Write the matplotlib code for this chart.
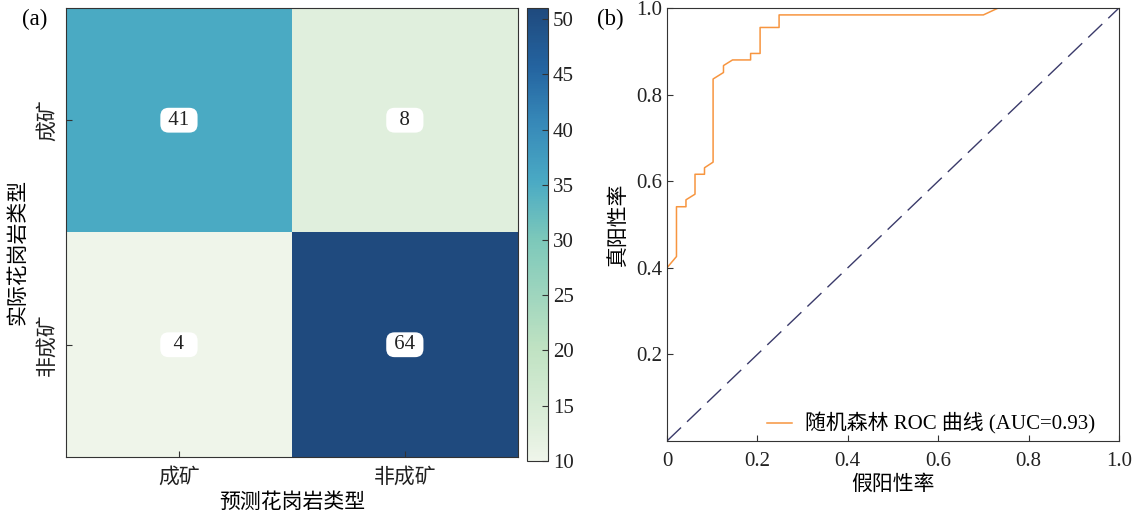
import numpy as np
import matplotlib
matplotlib.use('Agg')
import matplotlib.pyplot as plt
from matplotlib.colors import LinearSegmentedColormap, Normalize
from matplotlib.cm import ScalarMappable

plt.rcParams['font.family'] = ['Liberation Serif', 'Noto Sans CJK SC']
plt.rcParams['font.size'] = 15
plt.rcParams['axes.unicode_minus'] = False

# confusion matrix data
classes = ['成矿', '非成矿']
cm = np.array([[41, 8],
               [4, 64]])
cbar_min, cbar_max = 10, 51
cbar_ticks = [10, 15, 20, 25, 30, 35, 40, 45, 50]

# ROC curve data
fpr = [0, 0, 0.021, 0.021, 0.042, 0.042, 0.062, 0.062, 0.083, 0.083, 0.102, 0.102,
       0.125, 0.125, 0.145, 0.185, 0.185, 0.206, 0.206, 0.248, 0.248, 0.700, 0.733, 1.0]
tpr = [0, 0.40, 0.426, 0.541, 0.541, 0.557, 0.570, 0.616, 0.616, 0.631, 0.644, 0.836,
       0.851, 0.867, 0.880, 0.880, 0.895, 0.895, 0.955, 0.955, 0.984, 0.984, 1.0, 1.0]
auc = 0.93

cmap = LinearSegmentedColormap.from_list('gb', [
    (0.0, '#eff5ea'), (0.07, '#e0efdd'), (0.25, '#bfe2c2'), (0.49, '#7cc8ba'),
    (0.617, '#4aaac4'), (0.75, '#3688b8'), (0.87, '#2464a0'), (1.0, '#1f4a7e')])

spine_col = '#333333'
fig = plt.figure(figsize=(11.38, 5.15), dpi=100)

# (a) heatmap
ax1 = fig.add_axes([0.058, 0.1126, 0.397, 0.872])
ax1.imshow(cm, cmap=cmap, vmin=cm.min(), vmax=cm.max(), aspect='auto')
for i in range(2):
    for j in range(2):
        v = cm[i, j]
        s = ' %d ' % v if v >= 10 else '  %d  ' % v
        ax1.text(j, i, s, ha='center', va='center', color='#222222',
                 bbox=dict(boxstyle='round,pad=0.14,rounding_size=0.4', fc='white', ec='none'))
ax1.set_xticks([0, 1])
ax1.set_xticklabels(classes)
ax1.set_yticks([0, 1])
ax1.set_yticklabels(classes, rotation=90, va='center')
ax1.set_xlabel('预测花岗岩类型', labelpad=4)
ax1.set_ylabel('实际花岗岩类型')
ax1.yaxis.set_label_coords(-0.082, 0.457)
ax1.tick_params(direction='in', length=4, color=spine_col, labelcolor='#222222')
ax1.tick_params(axis='x', pad=8)
ax1.tick_params(axis='y', pad=6)
for sp in ax1.spines.values():
    sp.set_color(spine_col)
fig.text(0.019, 0.952, '(a)', fontsize=16.5)

cax = fig.add_axes([0.4631, 0.1049, 0.01845, 0.8796])
cb = fig.colorbar(ScalarMappable(Normalize(cbar_min, cbar_max), cmap), cax=cax)
cb.set_ticks(cbar_ticks)
cax.tick_params(direction='in', length=4, color=spine_col, labelcolor='#222222')
cb.outline.set_edgecolor(spine_col)

# (b) ROC
ax2 = fig.add_axes([0.5861, 0.1437, 0.3972, 0.8408])
ax2.plot(fpr, tpr, color='#f7953f', lw=1.1, label='随机森林 ROC 曲线 (AUC=%.2f)' % auc)
ax2.plot([0, 1], [0, 1], color='#3a3a6a', lw=1.0, linestyle=(0, (14, 6)))
ax2.set_xlim(0, 1)
ax2.set_ylim(0, 1)
ax2.set_xticks([0, 0.2, 0.4, 0.6, 0.8, 1.0])
ax2.set_xticklabels(['0', '0.2', '0.4', '0.6', '0.8', '1.0'])
ax2.set_yticks([0.2, 0.4, 0.6, 0.8, 1.0])
ax2.set_yticklabels(['0.2', '0.4', '0.6', '0.8', '1.0'])
ax2.set_xlabel('假阳性率', labelpad=3)
ax2.set_ylabel('真阳性率', labelpad=5)
ax2.tick_params(direction='in', length=4, color=spine_col, labelcolor='#222222')
ax2.tick_params(axis='x', pad=8)
for sp in ax2.spines.values():
    sp.set_color(spine_col)
ax2.legend(loc='lower right', bbox_to_anchor=(0.965, -0.005), frameon=False,
           handlelength=1.2, handletextpad=0.6, borderaxespad=0)
fig.text(0.525, 0.952, '(b)', fontsize=16.5)

fig.savefig('out.png', dpi=100)
